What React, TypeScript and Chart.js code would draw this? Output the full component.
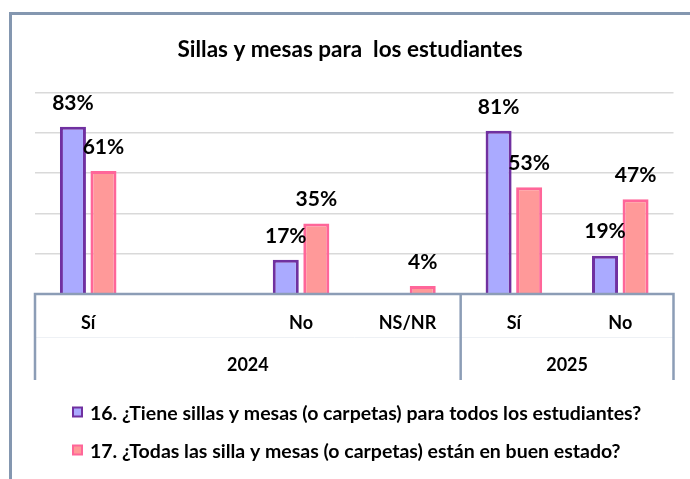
import React, { useEffect, useRef } from "react";
import { Chart, registerables } from "chart.js";

Chart.register(...registerables);

const TITLE = "Sillas y mesas para  los estudiantes";
const categories = ["Sí", "", "No", "NS/NR", "Sí", "No"];
const years = ["2024", "2025"];
const yearSpans = [4, 2];
const seriesNames = [
  "16. ¿Tiene sillas y mesas (o carpetas) para todos los estudiantes?",
  "17. ¿Todas las silla y mesas (o carpetas) están en buen estado?",
];
const series16 = [83, null, 17, null, 81, 19];
const series17 = [61, null, 35, 4, 53, 47];
const yTicks = { min: 0, max: 100, step: 20 };

const FONT = "Lato, 'Open Sans', sans-serif";
const AXIS_COLOR = "#8C9DB6";

const overlay = {
  id: "overlay",
  afterDraw(chart: any) {
    const ctx = chart.ctx as CanvasRenderingContext2D;
    const x = chart.scales.x;
    const area = chart.chartArea;
    ctx.save();

    // outer frame (partial, as cropped)
    ctx.strokeStyle = "#8497B0";
    ctx.lineWidth = 3;
    ctx.beginPath();
    ctx.moveTo(10.5, 479);
    ctx.lineTo(10.5, 13.5);
    ctx.lineTo(690, 13.5);
    ctx.stroke();

    // title
    ctx.fillStyle = "#000";
    ctx.font = `bold 22.5px ${FONT}`;
    ctx.textAlign = "center";
    ctx.textBaseline = "alphabetic";
    ctx.fillText(TITLE, 350, 57);

    // axis box
    const n = categories.length;
    const slot = (area.right - area.left) / n;
    const boxBottom = 380;
    ctx.strokeStyle = "#EEF1F5";
    ctx.lineWidth = 1;
    ctx.beginPath();
    ctx.moveTo(area.left, 337.5);
    ctx.lineTo(area.right, 337.5);
    ctx.stroke();

    ctx.strokeStyle = AXIS_COLOR;
    ctx.lineWidth = 2.5;
    ctx.beginPath();
    ctx.moveTo(area.left, area.bottom);
    ctx.lineTo(area.right, area.bottom);
    let acc = 0;
    const bounds = [0];
    yearSpans.forEach((s) => {
      acc += s;
      bounds.push(acc);
    });
    bounds.forEach((b) => {
      const px = area.left + b * slot;
      ctx.moveTo(px, area.bottom - 1.25);
      ctx.lineTo(px, boxBottom);
    });
    ctx.stroke();

    // category labels
    ctx.fillStyle = "#000";
    ctx.font = `bold 18px ${FONT}`;
    ctx.textAlign = "center";
    ctx.textBaseline = "middle";
    categories.forEach((c, i) => {
      if (c) ctx.fillText(c, x.getPixelForValue(i), 323);
    });
    // year labels
    years.forEach((yr, i) => {
      const cx = area.left + ((bounds[i] + bounds[i + 1]) / 2) * slot;
      ctx.fillText(yr, cx, 365);
    });

    // data labels
    ctx.font = `bold 21px ${FONT}`;
    chart.data.datasets.forEach((ds: any, di: number) => {
      const meta = chart.getDatasetMeta(di);
      meta.data.forEach((el: any, i: number) => {
        const v = ds.data[i];
        if (v === null || v === undefined) return;
        ctx.fillText(`${v}%`, el.x, el.y - 24);
      });
    });

    // legend
    const legendY = [412, 450];
    ctx.textAlign = "left";
    ctx.textBaseline = "middle";
    ctx.font = `bold 19.5px ${FONT}`;
    chart.data.datasets.forEach((ds: any, di: number) => {
      const cy = legendY[di];
      ctx.fillStyle = ds.backgroundColor;
      ctx.fillRect(73, cy - 4.5, 9, 9);
      ctx.strokeStyle = ds.borderColor;
      ctx.lineWidth = 2;
      ctx.strokeRect(73, cy - 4.5, 9, 9);
      ctx.fillStyle = "#000";
      ctx.fillText(ds.label, 90, cy + 1.5);
    });

    ctx.restore();
  },
};

export default function App() {
  const ref = useRef<HTMLCanvasElement | null>(null);
  useEffect(() => {
    if (!ref.current) return;
    const chart = new Chart(ref.current, {
      type: "bar",
      data: {
        labels: categories,
        datasets: [
          {
            label: seriesNames[0],
            data: series16,
            backgroundColor: "#AAAAFF",
            borderColor: "#7030A0",
            borderWidth: 3,
          },
          {
            label: seriesNames[1],
            data: series17,
            backgroundColor: "#FF9999",
            borderColor: "#FF6699",
            borderWidth: 3,
          },
        ],
      },
      options: {
        responsive: false,
        animation: false,
        devicePixelRatio: 1,
        categoryPercentage: 0.574,
        barPercentage: 0.852,
        layout: { padding: { left: 35, right: 16.5, top: 92.5, bottom: 185 } },
        plugins: {
          legend: { display: false },
          title: { display: false },
          tooltip: { enabled: false },
        },
        scales: {
          x: {
            ticks: { display: false },
            grid: { display: false, drawTicks: false },
            border: { display: false },
            afterFit: (s: any) => {
              s.height = 0;
            },
          },
          y: {
            min: yTicks.min,
            max: yTicks.max,
            ticks: { display: false, stepSize: yTicks.step },
            grid: { color: "#D9D9D9", lineWidth: 1.5, drawTicks: false },
            border: { display: false },
            afterFit: (s: any) => {
              s.width = 0;
            },
          },
        },
      } as any,
      plugins: [overlay],
    });
    return () => chart.destroy();
  }, []);
  return (
    <div style={{ position: "absolute", left: 0, top: 0, width: 690, height: 479, background: "#fff" }}>
      <canvas ref={ref} width={690} height={479} style={{ display: "block" }} />
    </div>
  );
}
